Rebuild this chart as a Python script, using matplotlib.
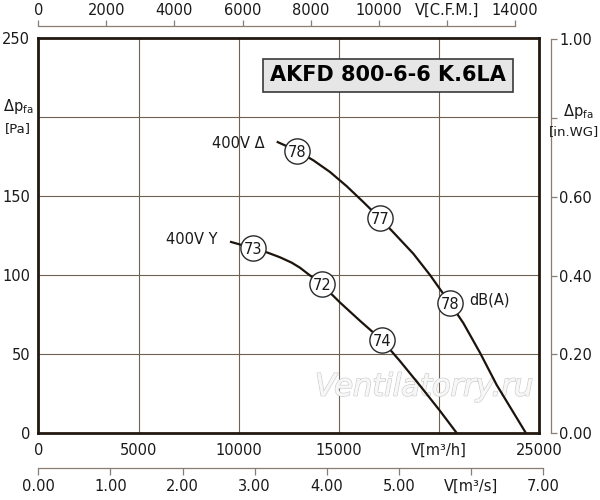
import matplotlib
matplotlib.use("Agg")
import matplotlib.pyplot as plt
import matplotlib.patheffects as pe
import numpy as np

# kennlinie 400V Delta
delta_v = [11896, 12894, 13723, 14556, 15389, 16218, 17051, 17715, 18713, 19546, 20544,
           21208, 22041, 22874, 24330]
delta_p = [184.4, 178.7, 172.6, 165.2, 156.2, 146.2, 135.8, 127.0, 113.5, 100.0, 82.1,
           69.6, 50.8, 30.4, 0]
# kennlinie 400V Y
y_v = [9566, 10729, 11477, 12061, 12645, 13059, 14142, 15055, 16053, 17136, 18049,
       19047, 20045, 20878]
y_p = [121.1, 116.9, 114.0, 111.2, 107.8, 104.6, 94.0, 82.6, 71.0, 58.9, 45.5,
       30.0, 14.0, 0]

# schallpegel dB(A) an den kreisen
delta_db_v = [12894, 17051, 20544]
delta_db_p = [178.7, 135.8, 82.1]
delta_db = [78, 77, 78]
y_db_v = [10729, 14142, 17136]
y_db_p = [116.9, 94.0, 58.9]
y_db = [73, 72, 74]

x_ticks = [0, 5000, 10000, 15000, 20000, 25000]
x_labels = ["0", "5000", "10000", "15000", "V[m³/h]", "25000"]
y_ticks = [0, 50, 100, 150, 200, 250]
y_labels = ["0", "50", "100", "150", "", "250"]
cfm_ticks = [0, 2000, 4000, 6000, 8000, 10000, 12000, 14000]
cfm_labels = ["0", "2000", "4000", "6000", "8000", "10000", "V[C.F.M.]", "14000"]
m3s_ticks = [0, 1, 2, 3, 4, 5, 6, 7]
m3s_labels = ["0.00", "1.00", "2.00", "3.00", "4.00", "5.00", "V[m³/s]", "7.00"]
inwg_ticks = [0, 0.2, 0.4, 0.6, 0.8, 1.0]
inwg_labels = ["0.00", "0.20", "0.40", "0.60", "", "1.00"]

CFM = 1.69901    # m3/h pro cfm
INWG = 249.089   # Pa pro in.WG

dark = "#231810"
axc = "#8a7e72"
txt = "#1a1a1a"

fig = plt.figure(figsize=(6, 5), dpi=100)
ax = fig.add_axes([38.3 / 600, 67 / 500, 501 / 600, 395 / 500])
ax.set_xlim(0, 25000)
ax.set_ylim(0, 250)

ax.set_xticks(x_ticks)
ax.set_xticklabels(x_labels)
ax.set_yticks(y_ticks)
ax.set_yticklabels(y_labels)
ax.grid(True, color="#6e6255", lw=0.8, zorder=0)
ax.set_axisbelow(True)
ax.tick_params(axis="x", length=0, pad=7, labelsize=10.5, labelcolor=txt)
ax.tick_params(axis="y", length=0, pad=6, labelsize=10.5, labelcolor=txt)
for s in ax.spines.values():
    s.set_linewidth(2.0)
    s.set_color(dark)
    s.set_zorder(7)

# kurven
ax.plot(delta_v, delta_p, color="#1c140c", lw=1.6, zorder=3, solid_capstyle="butt")
ax.plot(y_v, y_p, color="#1c140c", lw=1.6, zorder=3, solid_capstyle="butt")

# kreise mit dB werten
for vv, pp, db in [(delta_db_v, delta_db_p, delta_db), (y_db_v, y_db_p, y_db)]:
    ax.scatter(vv, pp, s=330, facecolor="white", edgecolor="#2a2a2a", lw=1.0, zorder=5)
    for a, b, d in zip(vv, pp, db):
        ax.text(a, b, str(d), ha="center", va="center_baseline", fontsize=10.5,
                color=txt, zorder=6)

ax.text(11312, 183.5, "400V Δ", ha="right", va="center", fontsize=10.5, color=txt)
ax.text(8967, 122.2, "400V Y", ha="right", va="center", fontsize=10.5, color=txt)
ax.text(21490, 84.2, "dB(A)", ha="left", va="center", fontsize=10.5, color=txt)

# typenbezeichnung
ax.text(17450, 226.3, "AKFD 800-6-6 K.6LA", ha="center", va="center", fontsize=15,
        fontweight="bold", color="black", zorder=6,
        bbox=dict(boxstyle="square,pad=0.33", facecolor="#e6e6e6", edgecolor="#3a3a3a", lw=1.2))

# wasserzeichen
wm = ax.text(19247, 29.1, "Ventilatorry.ru", ha="center", va="center", fontsize=22,
             style="italic", color="#f7f7f7", zorder=2)
wm.set_path_effects([pe.withStroke(linewidth=1.2, foreground="#cfcfcf"), pe.Normal()])

# obere achse C.F.M.
top = ax.secondary_xaxis(1 + 12 / 395, functions=(lambda x: x / CFM, lambda x: x * CFM))
top.set_xticks(cfm_ticks)
top.set_xticklabels(cfm_labels)
top.tick_params(direction="out", length=4.5, width=0.9, color=axc, pad=1.5,
                labelsize=10.5, labelcolor=txt)
top.spines["top"].set_color(axc)
top.spines["top"].set_linewidth(0.9)
top.spines["top"].set_bounds(0, 14000)

# rechte achse in.WG
right = ax.secondary_yaxis(1 + 11.4 / 501, functions=(lambda p: p / INWG, lambda p: p * INWG))
right.set_yticks(inwg_ticks)
right.set_yticklabels(inwg_labels)
right.tick_params(direction="out", length=4.5, width=0.9, color=axc, pad=1.5,
                  labelsize=10.5, labelcolor=txt)
right.spines["right"].set_color(axc)
right.spines["right"].set_linewidth(0.9)
right.spines["right"].set_bounds(0, 1.0)

# untere achse m3/s (geht bis 7.00 = 25200 m3/h, also etwas breiter)
w_m3s = (501 / 600) * (7 * 3600 / 25000)
bot = fig.add_axes([38.3 / 600, 1 - 468 / 500, w_m3s, 0.0001])
bot.patch.set_visible(False)
bot.set_xlim(0, 7)
bot.set_yticks([])
for k in ["top", "left", "right"]:
    bot.spines[k].set_visible(False)
bot.spines["bottom"].set_color(axc)
bot.spines["bottom"].set_linewidth(0.9)
bot.set_xticks(m3s_ticks)
bot.set_xticklabels(m3s_labels)
bot.tick_params(axis="x", direction="out", length=5, width=0.9, color=axc, pad=3,
                labelsize=10.5, labelcolor=txt)

# achsbeschriftungen druck
fig.text(18 / 600, 1 - 106 / 500, r"$\mathregular{\Delta p_{fa}}$", ha="center", va="center",
         fontsize=10.5, color=txt)
fig.text(17.5 / 600, 1 - 129 / 500, "[Pa]", ha="center", va="center", fontsize=9.5, color=txt)
fig.text(578 / 600, 1 - 111.5 / 500, r"$\mathregular{\Delta p_{fa}}$", ha="center", va="center",
         fontsize=10.5, color=txt)
fig.text(574.5 / 600, 1 - 132 / 500, "[in.WG]", ha="center", va="center", fontsize=9.5,
         color=txt)

fig.savefig("out.png", dpi=100)
